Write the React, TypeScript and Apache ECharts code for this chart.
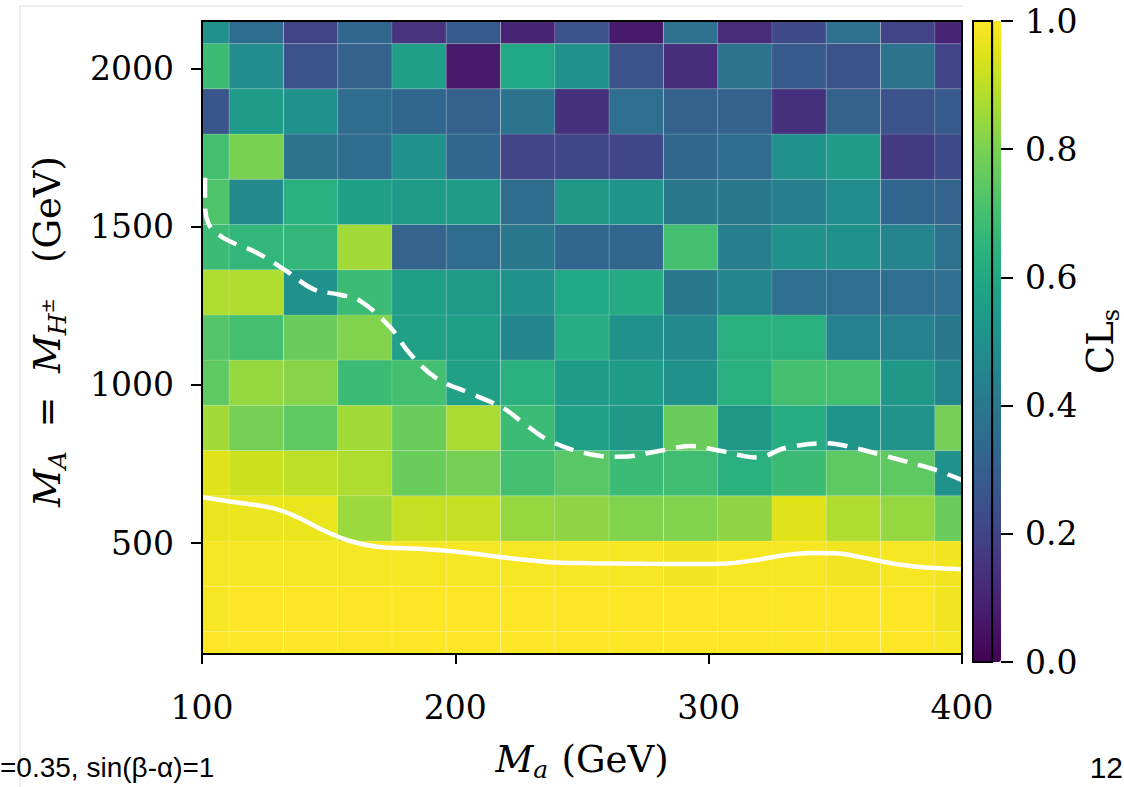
import React, { useEffect, useRef } from "react";
import * as echarts from "echarts";

// Cell centres (GeV)
const xCenters = [100, 121.4, 142.9, 164.3, 185.7, 207.1, 228.6, 250, 271.4, 292.9, 314.3, 335.7, 357.1, 378.6, 400];
const yCenters = [150, 292.9, 435.7, 578.6, 721.4, 864.3, 1007.1, 1150, 1292.9, 1435.7, 1578.6, 1721.4, 1864.3, 2007.1, 2150];

// CLs values, one row per yCenter (bottom -> top), left -> right
const cls150 = [1, 1, 1, 1, 1, 1, 1, 1, 1, 1, 1, 1, 1, 1, 0.99];
const cls293 = [0.99, 1, 1, 1, 1, 1, 1, 1, 1, 1, 1, 1, 1, 1, 0.98];
const cls436 = [0.99, 0.99, 0.99, 0.99, 0.99, 0.99, 0.99, 0.99, 0.99, 0.98, 0.99, 0.99, 0.98, 0.99, 0.98];
const cls579 = [0.97, 0.97, 0.97, 0.85, 0.91, 0.91, 0.84, 0.83, 0.81, 0.81, 0.83, 0.95, 0.88, 0.84, 0.77];
const cls721 = [0.95, 0.92, 0.9, 0.88, 0.77, 0.79, 0.7, 0.74, 0.68, 0.69, 0.63, 0.68, 0.75, 0.75, 0.5];
const cls864 = [0.86, 0.79, 0.75, 0.86, 0.77, 0.87, 0.68, 0.57, 0.53, 0.77, 0.53, 0.62, 0.52, 0.51, 0.79];
const cls1007 = [0.75, 0.84, 0.82, 0.68, 0.7, 0.57, 0.63, 0.55, 0.55, 0.5, 0.63, 0.7, 0.7, 0.53, 0.46];
const cls1150 = [0.73, 0.7, 0.77, 0.81, 0.57, 0.56, 0.46, 0.62, 0.5, 0.47, 0.63, 0.63, 0.44, 0.44, 0.4];
const cls1293 = [0.88, 0.88, 0.5, 0.68, 0.56, 0.54, 0.5, 0.6, 0.61, 0.4, 0.46, 0.36, 0.36, 0.36, 0.36];
const cls1436 = [0.68, 0.66, 0.66, 0.86, 0.32, 0.35, 0.4, 0.33, 0.33, 0.7, 0.43, 0.5, 0.5, 0.45, 0.37];
const cls1579 = [0.72, 0.47, 0.63, 0.56, 0.55, 0.55, 0.35, 0.53, 0.52, 0.4, 0.4, 0.43, 0.48, 0.33, 0.32];
const cls1721 = [0.7, 0.8, 0.38, 0.35, 0.5, 0.33, 0.2, 0.21, 0.21, 0.33, 0.35, 0.5, 0.55, 0.17, 0.23];
const cls1864 = [0.26, 0.55, 0.5, 0.35, 0.33, 0.31, 0.38, 0.14, 0.36, 0.31, 0.31, 0.14, 0.31, 0.25, 0.28];
const cls2007 = [0.68, 0.48, 0.25, 0.31, 0.56, 0.07, 0.6, 0.5, 0.25, 0.13, 0.38, 0.28, 0.25, 0.38, 0.2];
const cls2150 = [0.5, 0.35, 0.2, 0.33, 0.15, 0.28, 0.1, 0.25, 0.07, 0.37, 0.12, 0.22, 0.37, 0.2, 0.1];

const clsRows = [cls150, cls293, cls436, cls579, cls721, cls864, cls1007, cls1150, cls1293, cls1436, cls1579, cls1721, cls1864, cls2007, cls2150];

// Observed limit contour (solid)
const obsX = [100, 111, 128, 137.5, 147.8, 158.4, 169, 187.2, 200.7, 220.4, 240.1, 253.2, 275, 295, 307, 318, 329, 341, 350, 360, 370, 382, 400];
const obsY = [645, 632, 611, 583, 541, 507, 489, 482, 473, 454, 439, 437, 435, 434, 436, 446, 461, 469, 468, 456, 440, 426, 418];

// Expected limit contour (dashed)
const expX = [101.2, 101.2, 102.5, 108.4, 121.6, 133.4, 143.9, 154.5, 162.4, 174.2, 182.1, 192.6, 205.8, 218.9, 226.8, 237.4, 253.2, 265, 282.1, 292.6, 304.5, 319, 330.8, 346.6, 354.5, 374.2, 388.7, 400.5];
const expY = [1655, 1579, 1511, 1465, 1418, 1360, 1303, 1285, 1266, 1183, 1099, 1021, 974, 927, 880, 823, 781, 773, 794, 807, 792, 771, 802, 816, 807, 766, 734, 698];

const yTicks = [500, 1000, 1500, 2000];

const viridis = [
  "#440154", "#471365", "#482475", "#463480", "#414487", "#3b528b", "#355f8d",
  "#2f6c8e", "#2a788e", "#25848e", "#21918c", "#1e9c89", "#22a884", "#2fb47c",
  "#44bf70", "#5ec962", "#7ad151", "#9bd93c", "#bddf26", "#dfe318", "#fde725",
];

const SERIF = "DejaVu Serif";

export default function App() {
  const ref = useRef<HTMLDivElement>(null);

  useEffect(() => {
    if (!ref.current) return;
    const chart = echarts.init(ref.current, undefined, { renderer: "svg" });

    const cells: number[][] = [];
    clsRows.forEach((row, j) => row.forEach((v, i) => cells.push([xCenters[i], yCenters[j], v])));
    const dx = xCenters[1] - xCenters[0];
    const dy = yCenters[1] - yCenters[0];

    const obs = obsX.map((x, i) => [x, obsY[i]]);
    const exp = expX.map((x, i) => [x, expY[i]]);

    const lineSt = () => ({ color: "#000", width: 2 });
    const tickFont = () => ({ fontFamily: SERIF, fontSize: 33, color: "#000" });

    const rich = {
      i: { fontFamily: SERIF, fontStyle: "italic", fontSize: 37, color: "#000", lineHeight: 46 },
      n: { fontFamily: SERIF, fontSize: 37, color: "#000", lineHeight: 46 },
      sub: { fontFamily: SERIF, fontStyle: "italic", fontSize: 25, color: "#000", lineHeight: 25, verticalAlign: "bottom" },
      sup: { fontFamily: SERIF, fontSize: 18, color: "#000", lineHeight: 18, verticalAlign: "middle" },
      subn: { fontFamily: SERIF, fontSize: 24, color: "#000", lineHeight: 24, verticalAlign: "bottom" },
    };

    chart.setOption({
      animation: false,
      backgroundColor: "#fff",
      grid: [
        { left: 202, right: 162, top: 21, bottom: 127, show: false },
        {
          left: 973, width: 28, top: 21, height: 641, show: true,
          borderColor: "#000", borderWidth: 2, backgroundColor: "transparent", z: 10,
        },
        { left: 1001, width: 12, top: 21, height: 641, show: false, z: 10 },
      ],
      xAxis: [
        {
          type: "value", gridIndex: 0, min: 100, max: 400, interval: 100, position: "bottom",
          axisLine: { show: true, onZero: false, lineStyle: lineSt() },
          axisTick: { show: true, length: 10, lineStyle: lineSt() },
          axisLabel: { ...tickFont(), margin: 37, formatter: (v: number) => String(v) },
          splitLine: { show: false },
          name: "{i|M}{sub|a}    {n|(GeV)}",
          nameLocation: "middle", nameGap: 82,
          nameTextStyle: { rich },
          z: 5,
        },
        {
          type: "value", gridIndex: 0, min: 100, max: 400, position: "top",
          axisLine: { show: true, onZero: false, lineStyle: lineSt() },
          axisTick: { show: false }, axisLabel: { show: false }, splitLine: { show: false },
          z: 5,
        },
        { type: "value", gridIndex: 1, min: 0, max: 1, show: false },
        { type: "value", gridIndex: 2, min: 0, max: 1, show: false },
      ],
      yAxis: [
        {
          type: "value", gridIndex: 0, min: 150, max: 2150, position: "left",
          axisLine: { show: true, onZero: false, lineStyle: lineSt() },
          axisTick: { show: true, length: 11, lineStyle: lineSt(), customValues: yTicks },
          axisLabel: { ...tickFont(), margin: 28, customValues: yTicks, formatter: (v: number) => String(v) },
          splitLine: { show: false },
          name: "{i|M}{sub|A}{n|  =  }{i|M}{sub|H}{sup|±}{n|   (GeV)}",
          nameLocation: "middle", nameRotate: 90, nameGap: 132,
          nameTextStyle: { rich, padding: [0, 0, 0, 12] },
          z: 5,
        },
        {
          type: "value", gridIndex: 0, min: 150, max: 2150, position: "right",
          axisLine: { show: true, onZero: false, lineStyle: lineSt() },
          axisTick: { show: false }, axisLabel: { show: false }, splitLine: { show: false },
          z: 5,
        },
        {
          type: "value", gridIndex: 1, min: 0, max: 1, interval: 0.2, position: "right",
          axisLine: { show: true, onZero: false, lineStyle: lineSt() },
          axisTick: { show: false },
          axisLabel: { ...tickFont(), margin: 33, formatter: (v: number) => v.toFixed(1) },
          splitLine: { show: false },
          name: "{n|CL}{subn|s}",
          nameLocation: "middle", nameRotate: 90, nameGap: 84,
          nameTextStyle: { rich },
          z: 12,
        },
        {
          // colour-bar tick marks, drawn as split lines of a thin grid right of the bar
          type: "value", gridIndex: 2, min: 0, max: 1, interval: 0.2,
          axisLine: { show: false }, axisTick: { show: false }, axisLabel: { show: false },
          splitLine: { show: true, lineStyle: { color: "#000", width: 2 } },
          z: 12,
        },
      ],
      visualMap: {
        type: "continuous", min: 0, max: 1, dimension: 2, seriesIndex: 0,
        show: true, calculable: false, left: 973, top: 21, padding: 0,
        itemWidth: 28, itemHeight: 641, z: 2,
        inRange: { color: viridis },
      },
      graphic: [
        { type: "line", shape: { x1: 20, y1: 6, x2: 20, y2: 787 }, style: { stroke: "#dcdcdc", lineWidth: 1 } },
        { type: "line", shape: { x1: 20, y1: 6, x2: 963, y2: 6 }, style: { stroke: "#dcdcdc", lineWidth: 1 } },
        {
          type: "text", x: 0, y: 767,
          style: { text: "=0.35, sin(β-α)=1", fontFamily: "Liberation Sans", fontSize: 28, fill: "#000", verticalAlign: "middle", align: "left" },
        },
        {
          type: "text", x: 1123, y: 767,
          style: { text: "12", fontFamily: "Liberation Sans", fontSize: 30, fill: "#000", verticalAlign: "middle", align: "right" },
        },
      ],
      series: [
        {
          type: "custom",
          xAxisIndex: 0, yAxisIndex: 0,
          encode: { x: 0, y: 1 },
          data: cells,
          renderItem: (params: any, api: any) => {
            const x = api.value(0);
            const y = api.value(1);
            const p1 = api.coord([x - dx / 2, y + dy / 2]);
            const p2 = api.coord([x + dx / 2, y - dy / 2]);
            const cs = params.coordSys;
            const shape = echarts.graphic.clipRectByRect(
              { x: p1[0], y: p1[1], width: p2[0] - p1[0], height: p2[1] - p1[1] },
              { x: cs.x, y: cs.y, width: cs.width, height: cs.height }
            );
            if (!shape) return null;
            return {
              type: "rect",
              shape,
              style: { fill: api.visual("color"), stroke: "rgba(255,255,255,0.16)", lineWidth: 0.8 },
            };
          },
        },
        {
          type: "line", xAxisIndex: 0, yAxisIndex: 0, data: obs, smooth: 0.35,
          showSymbol: false, symbol: "none",
          lineStyle: { color: "#fff", width: 4.5 }, z: 3,
        },
        {
          type: "line", xAxisIndex: 0, yAxisIndex: 0, data: exp, smooth: 0.4,
          showSymbol: false, symbol: "none",
          lineStyle: { color: "#fff", width: 4.5, type: [20, 11] }, z: 3,
        },
      ],
    });

    return () => chart.dispose();
  }, []);

  return (
    <div
      ref={ref}
      style={{ position: "fixed", left: 0, top: 0, width: 1124, height: 787, background: "#fff" }}
    />
  );
}
